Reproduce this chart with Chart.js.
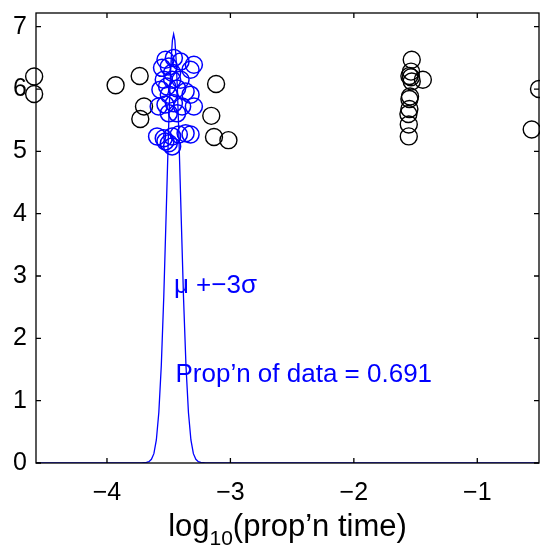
<!DOCTYPE html>
<html>
<head>
<meta charset="utf-8">
<script src="https://cdn.jsdelivr.net/npm/chart.js@4.4.1/dist/chart.umd.min.js"></script>
<style>
    body { margin: 0; background: #fff; }
    canvas { display: block; }
</style>
</head>
<body>
<canvas id="prop-chart" width="540" height="546"></canvas>
<script>
// Black circles (data outside the fitted cluster)
const blackX = [-4.59, -4.59, -3.93, -3.735, -3.70, -3.73, -3.116, -3.155, -3.133, -3.016,
    -1.531, -1.537, -1.55, -1.537, -1.531, -1.441, -1.545, -1.55, -1.55, -1.558, -1.555, -1.555,
    -0.50, -0.559];
const blackY = [6.20, 5.92, 6.06, 6.21, 5.72, 5.52, 6.08, 5.57, 5.23, 5.18,
    6.47, 6.28, 6.21, 6.19, 6.12, 6.15, 5.88, 5.84, 5.68, 5.60, 5.43, 5.24,
    6.00, 5.35];

// Blue circles (data inside mu +- 3 sigma)
const blueX = [-3.526, -3.458, -3.404, -3.296, -3.323, -3.554, -3.499, -3.472,
    -3.567, -3.513, -3.432, -3.363, -3.323, -3.499, -3.54, -3.472, -3.404,
    -3.581, -3.526, -3.458, -3.391, -3.296, -3.499, -3.432,
    -3.594, -3.54, -3.472, -3.418, -3.323, -3.499, -3.472, -3.526, -3.363];
const blueY = [6.47, 6.50, 6.44, 6.39, 6.31, 6.34, 6.36, 6.26,
    5.99, 6.04, 6.01, 5.96, 5.91, 5.91, 6.15, 6.15, 6.15,
    5.72, 5.75, 5.77, 5.72, 5.72, 5.61, 5.61,
    5.24, 5.21, 5.24, 5.27, 5.27, 5.13, 5.08, 5.16, 5.29];

// Fitted density curve
const curveX = [-4.59, -3.72, -3.68, -3.66, -3.64, -3.62, -3.60, -3.58, -3.56, -3.54, -3.52, -3.50,
    -3.49, -3.48, -3.47, -3.46, -3.45, -3.44, -3.43, -3.42, -3.40, -3.38, -3.36, -3.34, -3.32,
    -3.30, -3.28, -3.26, -3.24, -3.20, -0.50];
const curveY = [0, 0, 0.01, 0.02, 0.06, 0.15, 0.37, 0.81, 1.56, 2.66, 4.03, 5.42,
    6.02, 6.48, 6.78, 6.88, 6.78, 6.48, 6.02, 5.42, 4.03, 2.66, 1.56, 0.81, 0.37,
    0.15, 0.06, 0.02, 0.01, 0, 0];

const xTicks = [-4, -3, -2, -1];
const yTicks = [0, 1, 2, 3, 4, 5, 6, 7];

const toPoints = (xs, ys) => xs.map((x, i) => ({x: x, y: ys[i]}));
const fmt = v => (v < 0 ? '\u2212' + Math.abs(v) : String(v));
const FONT = '"Liberation Sans", Arial, Helvetica, sans-serif';

// chart.js pads the plot for edge labels; the reference doesn't
function noEdgePadding(s) {
    s.paddingTop = 0;
    s.paddingBottom = 0;
    s.paddingLeft = 0;
    s.paddingRight = 0;
}

// MATLAB look: box, inward ticks, annotations, subscripted x label
const matlabFrame = {
    id: 'matlabFrame',
    afterDatasetsDraw(chart) {
        const {ctx, scales} = chart;
        const xs = scales.x, ys = scales.y;
        ctx.save();
        ctx.fillStyle = '#0000ff';
        ctx.font = '26px ' + FONT;
        ctx.textAlign = 'left';
        ctx.textBaseline = 'alphabetic';
        ctx.fillText('\u03bc +\u22123\u03c3', xs.getPixelForValue(-3.458), ys.getPixelForValue(2.73));
        ctx.fillText('Prop\u2019n of data = 0.691', xs.getPixelForValue(-3.445), ys.getPixelForValue(1.30));
        ctx.restore();
    },
    afterDraw(chart) {
        const {ctx, chartArea: a, scales} = chart;
        const xs = scales.x, ys = scales.y;
        ctx.save();
        ctx.strokeStyle = '#000';
        ctx.lineWidth = 1.3;
        ctx.strokeRect(a.left, a.top, a.right - a.left, a.bottom - a.top);
        ctx.beginPath();
        xTicks.forEach(v => {
            const px = xs.getPixelForValue(v);
            ctx.moveTo(px, a.bottom); ctx.lineTo(px, a.bottom - 5);
            ctx.moveTo(px, a.top); ctx.lineTo(px, a.top + 5);
        });
        yTicks.forEach(v => {
            const py = ys.getPixelForValue(v);
            ctx.moveTo(a.left, py); ctx.lineTo(a.left + 5, py);
            ctx.moveTo(a.right, py); ctx.lineTo(a.right - 5, py);
        });
        ctx.stroke();

        // x label: log_10(prop'n time)
        ctx.fillStyle = '#000';
        ctx.textBaseline = 'alphabetic';
        ctx.textAlign = 'left';
        const big = '31px ' + FONT, small = '21px ' + FONT;
        ctx.font = big;
        const w1 = ctx.measureText('log').width;
        const w3 = ctx.measureText('(prop\u2019n time)').width;
        ctx.font = small;
        const w2 = ctx.measureText('10').width;
        const total = w1 + w2 + w3;
        const x0 = (a.left + a.right) / 2 - total / 2;
        const base = 536;
        ctx.font = big;
        ctx.fillText('log', x0, base);
        ctx.font = small;
        ctx.fillText('10', x0 + w1, base + 9);
        ctx.font = big;
        ctx.fillText('(prop\u2019n time)', x0 + w1 + w2, base);
        ctx.restore();
    }
};

new Chart(document.getElementById('prop-chart'), {
    type: 'scatter',
    data: {
        datasets: [
            {
                label: 'fit',
                type: 'line',
                data: toPoints(curveX, curveY),
                borderColor: '#0000ff',
                borderWidth: 1.3,
                pointRadius: 0,
                tension: 0,
                fill: false,
                order: 0
            },
            {
                label: 'inside',
                data: toPoints(blueX, blueY),
                pointStyle: 'circle',
                pointRadius: 8.5,
                backgroundColor: 'rgba(0,0,0,0)',
                borderColor: '#0000ff',
                borderWidth: 1.5,
                clip: false,
                order: 1
            },
            {
                label: 'outside',
                data: toPoints(blackX, blackY),
                pointStyle: 'circle',
                pointRadius: 8.5,
                backgroundColor: 'rgba(0,0,0,0)',
                borderColor: '#000',
                borderWidth: 1.4,
                clip: false,
                order: 2
            }
        ]
    },
    options: {
        responsive: false,
        devicePixelRatio: 1,
        animation: false,
        layout: {autoPadding: false, padding: {top: 13, right: 1, left: 0, bottom: 0}},
        plugins: {
            legend: {display: false},
            tooltip: {enabled: false}
        },
        scales: {
            x: {
                type: 'linear',
                min: -4.575,
                max: -0.5,
                afterBuildTicks: s => { s.ticks = xTicks.map(v => ({value: v})); },
                afterFit: s => { s.height = 83; noEdgePadding(s); },
                grid: {display: false, drawTicks: false},
                border: {display: false},
                ticks: {
                    color: '#000',
                    font: {family: FONT, size: 25},
                    padding: 15,
                    maxRotation: 0,
                    callback: v => fmt(v)
                }
            },
            y: {
                type: 'linear',
                min: 0,
                max: 7.22,
                afterBuildTicks: s => { s.ticks = yTicks.map(v => ({value: v})); },
                afterFit: s => { s.width = 36; noEdgePadding(s); },
                grid: {display: false, drawTicks: false},
                border: {display: false},
                ticks: {
                    color: '#000',
                    font: {family: FONT, size: 25},
                    padding: 9,
                    callback: v => fmt(v)
                }
            }
        }
    },
    plugins: [matlabFrame]
});
</script>
</body>
</html>
